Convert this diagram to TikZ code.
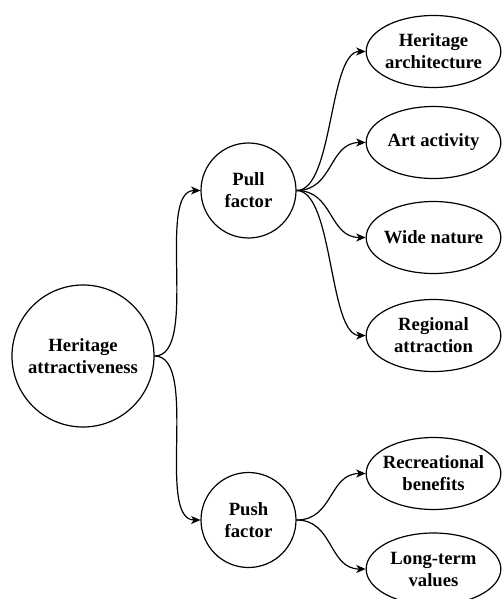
\documentclass[tikz,border=0pt]{standalone}
\usepackage{fontspec}
\setmainfont{Liberation Serif}
\usetikzlibrary{arrows.meta,shapes.geometric}
\begin{document}
\begin{tikzpicture}[x=0.75pt,y=-0.75pt,
  font=\fontsize{14}{16.5}\selectfont\bfseries,
  circ/.style={draw, circle, line width=0.9pt, inner sep=0pt, align=center},
  bigcirc/.style={circ, minimum size=106.5pt},
  midcirc/.style={circ, minimum size=71.25pt},
  ell/.style={draw, ellipse, line width=0.9pt, minimum width=101pt, minimum height=54pt, inner sep=-8pt, align=center},
  link/.style={line width=0.9pt, -{Stealth[length=7pt,width=6pt,inset=2pt]}}]
\useasboundingbox (0,0) rectangle (501,599);
\node[bigcirc] (H) at (83,356) {Heritage\\attractiveness};
\node[midcirc] (PL) at (248.5,190.5) {Pull\\factor};
\node[midcirc] (PS) at (248.5,520) {Push\\factor};
\node[ell] (HA) at (433.5,51.5) {Heritage\\architecture};
\node[ell] (AA) at (433.5,142.5) {Art activity};
\node[ell] (WN) at (433.5,237.5) {Wide nature};
\node[ell] (RA) at (433.5,335.5) {Regional\\attraction};
\node[ell] (RB) at (433.5,473.5) {Recreational\\benefits};
\node[ell] (LT) at (433.5,569) {Long-term\\values};
\draw[link] (H.east) .. controls +(45,0) and +(-45,0) .. (PL.west);
\draw[link] (H.east) .. controls +(45,0) and +(-45,0) .. (PS.west);
\draw[link] (PL.east) .. controls +(37,0) and +(-37,0) .. (HA.west);
\draw[link] (PL.east) .. controls +(37,0) and +(-37,0) .. (AA.west);
\draw[link] (PL.east) .. controls +(37,0) and +(-37,0) .. (WN.west);
\draw[link] (PL.east) .. controls +(37,0) and +(-37,0) .. (RA.west);
\draw[link] (PS.east) .. controls +(37,0) and +(-37,0) .. (RB.west);
\draw[link] (PS.east) .. controls +(37,0) and +(-37,0) .. (LT.west);
\end{tikzpicture}
\end{document}
